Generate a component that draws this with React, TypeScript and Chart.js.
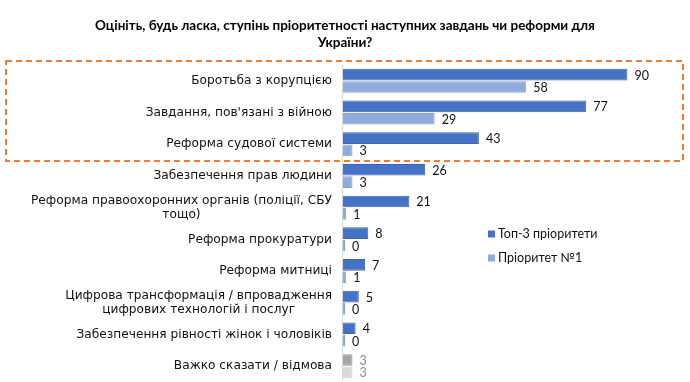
import React, { useEffect, useRef } from "react";
import { Chart, registerables } from "chart.js";
Chart.register(...registerables);

const TITLE = [
  "Оцініть, будь ласка, ступінь пріоритетності наступних завдань чи реформи для",
  "України?",
];
const CATEGORIES: (string | string[])[] = [
  "Боротьба з корупцією",
  "Завдання, пов'язані з війною",
  "Реформа судової системи",
  "Забезпечення прав людини",
  ["Реформа правоохоронних органів (поліції, СБУ", "тощо)"],
  "Реформа прокуратури",
  "Реформа митниці",
  ["Цифрова трансформація / впровадження", "цифрових технологій і послуг"],
  "Забезпечення рівності жінок і чоловіків",
  "Важко сказати / відмова",
];
const TOP3 = [90, 77, 43, 26, 21, 8, 7, 5, 4, 3];
const FIRST = [58, 29, 3, 3, 1, 0, 1, 0, 0, 3];
const SERIES_NAMES = ["Топ-3 пріоритети", "Пріоритет №1"];

const DARK = "#4472C4";
const LIGHT = "#8FAADC";
const DARK_GRAY = "#A5A5A5";
const LIGHT_GRAY = "#D9D9D9";
const FONT = "Lato, 'Open Sans', sans-serif";
const LABEL_FONT = "'DejaVu Sans', sans-serif";

const overlay = {
  id: "overlay",
  afterDraw(chart: any) {
    const ctx = chart.ctx as CanvasRenderingContext2D;
    const area = chart.chartArea;
    const yScale = chart.scales.y;
    ctx.save();

    // title
    ctx.fillStyle = "#000";
    ctx.font = `bold 13.5px ${FONT}`;
    ctx.textAlign = "center";
    ctx.textBaseline = "middle";
    ctx.fillText(TITLE[0], 345, 26);
    ctx.fillText(TITLE[1], 345, 43);

    // axis line
    ctx.strokeStyle = "#D9D9D9";
    ctx.lineWidth = 1;
    ctx.beginPath();
    ctx.moveTo(area.left - 0.5, area.top);
    ctx.lineTo(area.left - 0.5, area.bottom);
    ctx.stroke();

    // category labels
    ctx.font = `12.2px ${LABEL_FONT}`;
    ctx.fillStyle = "#111";
    const right = 332;
    const lh = 14;
    CATEGORIES.forEach((lab, i) => {
      const lines = Array.isArray(lab) ? lab : [lab];
      const y = yScale.getPixelForValue(i);
      const bw = Math.max(...lines.map((l) => ctx.measureText(l).width));
      const cx = right - bw / 2;
      ctx.textAlign = "center";
      lines.forEach((l, j) => {
        const ly = y + (j - (lines.length - 1) / 2) * lh;
        ctx.fillText(l, cx, ly);
      });
    });

    // value labels
    ctx.font = `12.5px ${FONT}`;
    ctx.textAlign = "left";
    chart.data.datasets.forEach((ds: any, di: number) => {
      const meta = chart.getDatasetMeta(di);
      meta.data.forEach((bar: any, i: number) => {
        ctx.fillStyle = i === CATEGORIES.length - 1 ? "#8C8C8C" : "#111";
        const x = Math.max(bar.x, area.left);
        ctx.fillText(String(ds.data[i]), x + 7, bar.y + 1);
      });
    });

    // legend
    const lx = 488;
    [
      [SERIES_NAMES[0], DARK, 234],
      [SERIES_NAMES[1], LIGHT, 258],
    ].forEach(([name, col, y]: any) => {
      ctx.fillStyle = col;
      ctx.fillRect(lx, y - 3.5, 7, 7);
      ctx.fillStyle = "#111";
      ctx.fillText(name, lx + 10, y);
    });

    // dashed box
    ctx.strokeStyle = "#ED7D31";
    ctx.lineWidth = 2;
    ctx.setLineDash([6, 4]);
    ctx.strokeRect(6, 61, 677, 100);
    ctx.restore();
  },
};

export default function App() {
  const ref = useRef<HTMLCanvasElement>(null);
  useEffect(() => {
    if (!ref.current) return;
    const n = CATEGORIES.length;
    const chart = new Chart(ref.current, {
      type: "bar",
      data: {
        labels: CATEGORIES.map((c) => (Array.isArray(c) ? c.join(" ") : c)),
        datasets: [
          {
            label: SERIES_NAMES[0],
            data: TOP3,
            backgroundColor: TOP3.map((_, i) => (i === n - 1 ? DARK_GRAY : DARK)),
            borderColor: TOP3.map((_, i) => (i === n - 1 ? "#999999" : "#3A66B5")),
            borderWidth: 1,
            categoryPercentage: 0.78,
            barPercentage: 0.94,
          },
          {
            label: SERIES_NAMES[1],
            data: FIRST,
            backgroundColor: FIRST.map((_, i) => (i === n - 1 ? LIGHT_GRAY : LIGHT)),
            borderColor: FIRST.map((_, i) => (i === n - 1 ? "#D0D0D0" : "#86A2D6")),
            borderWidth: 1,
            minBarLength: 2,
            categoryPercentage: 0.78,
            barPercentage: 0.94,
          },
        ],
      },
      options: {
        indexAxis: "y",
        animation: false,
        responsive: false,
        maintainAspectRatio: false,
        layout: { padding: { left: 343, right: 31, top: 65, bottom: 0 } },
        scales: {
          x: { display: false, min: 0, max: 100 },
          y: { display: false },
        },
        plugins: {
          legend: { display: false },
          tooltip: { enabled: false },
          title: { display: false },
        },
      },
      plugins: [overlay],
    });
    return () => chart.destroy();
  }, []);
  return (
    <div style={{ position: "fixed", left: 0, top: 0, width: 690, height: 382, background: "#fff" }}>
      <canvas ref={ref} width={690} height={382} style={{ display: "block" }} />
    </div>
  );
}
